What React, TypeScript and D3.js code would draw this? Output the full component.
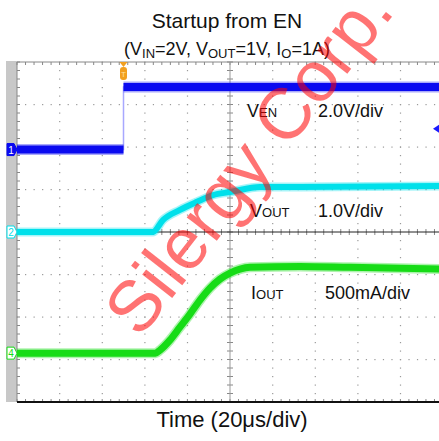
import * as d3 from 'd3';
import React from 'react';

// time axis: 20us/div, 10 divisions, 0 at centre
const timeDomain = [-100, 100];
const divDomain = [-4, 4];

// CH1 - EN (2V/div)
const enTime = [-100, -50, -50, 100];
const enVolt = [0, 0, 2.94, 2.94];
// CH2 - VOUT (1V/div)
const voutTime = [-100, -36.2, -31.5, -23.5, -15.5, -8, 0, 14.1, 32.9, 98, 100];
const voutVolt = [0, 0, 0.28, 0.52, 0.71, 0.87, 0.94, 1.06, 1.06, 1.08, 1.08];
// CH4 - IOUT (500mA/div)
const ioutTime = [-100, -35, -32.9, -28.2, -23.5, -18.8, -14.1, -9.4, -4.7, 0, 4.7, 9.4, 32.9, 56.3, 100];
const ioutAmp = [0, 0, 0.035, 0.153, 0.306, 0.459, 0.624, 0.765, 0.871, 0.941, 0.988, 1.01, 1.02, 1.01, 0.99];

const channels = [
  { id: '1', color: '#0a0af0', perDiv: 2, offset: 1.94, width: 8 },
  { id: '2', color: '#00e0ea', perDiv: 1, offset: 0, width: 6 },
  { id: '4', color: '#16dc16', perDiv: 0.5, offset: -2.85, width: 7 },
];

const FONT = '"Liberation Sans", Arial, sans-serif';

const App = () => {
  const W = 439;
  const H = 441;
  const x = d3.scaleLinear().domain(timeDomain).range([17, 443]);
  const y = d3.scaleLinear().domain(divDomain).range([402, 62]);

  const toPts = (t: number[], v: number[], ch: any) =>
    t.map((tt, i) => [x(tt), y(ch.offset + v[i] / ch.perDiv)] as [number, number]);

  const line = d3.line<[number, number]>();
  const curve = d3.line<[number, number]>().curve(d3.curveMonotoneX);

  const en = toPts(enTime, enVolt, channels[0]);
  const vout = toPts(voutTime, voutVolt, channels[1]);
  const iout = toPts(ioutTime, ioutAmp, channels[2]);

  const majorX = d3.range(-5, 6).map((d) => x(d * 20));
  const majorY = d3.range(-4, 5);
  const subX = d3.range(0, 51).map((i) => x(-100 + i * 4));
  const subY = d3.range(0, 41).map((i) => y(-4 + i * 0.2));

  const dots: JSX.Element[] = [];
  majorX.forEach((gx, i) => {
    if (i === 0 || i === 5) return;
    subY.forEach((sy, j) => dots.push(<rect key={`vx${i}-${j}`} x={gx - 0.5} y={sy - 0.5} width={1.2} height={1.2} fill="#9a9a9a" />));
  });
  majorY.forEach((d, i) => {
    if (d === -4 || d === 0 || d === 4) return;
    subX.forEach((sx, j) => dots.push(<rect key={`hy${i}-${j}`} x={sx - 0.5} y={y(d) - 0.5} width={1.2} height={1.2} fill="#9a9a9a" />));
  });

  const ticks: JSX.Element[] = [];
  subX.forEach((sx, j) => {
    ticks.push(<line key={`tt${j}`} x1={sx} x2={sx} y1={62} y2={65} stroke="#888" />);
    ticks.push(<line key={`tb${j}`} x1={sx} x2={sx} y1={399} y2={402} stroke="#888" />);
    ticks.push(<line key={`tc${j}`} x1={sx} x2={sx} y1={y(0) - 3} y2={y(0) + 3} stroke="#888" />);
  });
  subY.forEach((sy, j) => {
    ticks.push(<line key={`tl${j}`} x1={17} x2={20} y1={sy} y2={sy} stroke="#888" />);
    ticks.push(<line key={`tv${j}`} x1={x(0) - 3} x2={x(0) + 3} y1={sy} y2={sy} stroke="#888" />);
  });

  const marker = (ch: any, filled: boolean) => {
    const my = y(ch.offset);
    return (
      <g key={`m${ch.id}`}>
        <path d={`M7,${my - 6} h7 l3,6 l-3,6 h-7 z`} fill={filled ? ch.color : '#fff'} stroke={ch.color} strokeWidth={1} />
        <text x={11} y={my + 4} textAnchor="middle" fontSize={10} fontFamily={FONT} fill={filled ? '#fff' : ch.color}>{ch.id}</text>
      </g>
    );
  };

  const trace = (pts: [number, number][], ch: any, gen: any) => (
    <g>
      <path d={gen(pts)} fill="none" stroke={ch.color} strokeWidth={ch.width + 3} strokeOpacity={0.35} />
      <path d={gen(pts)} fill="none" stroke={ch.color} strokeWidth={ch.width} />
    </g>
  );

  return (
    <svg width={W} height={H} style={{ position: 'absolute', left: 0, top: 0, display: 'block', background: '#fff' }}>
      {/* titles */}
      <text x={227} y={28} textAnchor="middle" fontSize={21} fontFamily={FONT} fill="#111">Startup from EN</text>
      <text x={227} y={55} textAnchor="middle" fontSize={18} fontFamily={FONT} fill="#111">
        (V<tspan fontSize={13} dy={3}>IN</tspan><tspan dy={-3}>=2V, V</tspan><tspan fontSize={13} dy={3}>OUT</tspan>
        <tspan dy={-3}>=1V, I</tspan><tspan fontSize={13} dy={3}>O</tspan><tspan dy={-3}>=1A)</tspan>
      </text>

      {/* scope frame */}
      <rect x={6} y={61} width={11} height={341} fill="#c8c8c8" />
      <line x1={17} x2={439} y1={62} y2={62} stroke="#888" />
      <line x1={17} x2={17} y1={62} y2={402} stroke="#888" />
      {dots}
      {ticks}
      <line x1={x(0)} x2={x(0)} y1={62} y2={402} stroke="#999" />
      <line x1={17} x2={439} y1={y(0)} y2={y(0)} stroke="#222" />
      <line x1={17} x2={439} y1={402} y2={402} stroke="#111" strokeWidth={2} />

      {/* traces */}
      <path d={line(en) as string} fill="none" stroke="#a8a8ff" strokeWidth={1.5} />
      {trace(en.slice(0, 2), channels[0], line)}
      {trace(en.slice(2), channels[0], line)}
      {trace(vout, channels[1], curve)}
      {trace(iout, channels[2], curve)}

      {/* markers */}
      {marker(channels[0], true)}
      {marker(channels[1], false)}
      {marker(channels[2], false)}
      <path d={`M${x(-50) - 4},62 h8 l-4,5 z`} fill="#f2a020" />
      <rect x={x(-50) - 3.5} y={67} width={7} height={13} rx={3} fill="#f2a020" />
      <text x={x(-50)} y={77} textAnchor="middle" fontSize={8} fontFamily={FONT} fill="#ffe0a0">T</text>
      <path d={`M433,${y(2.43)} l6,-4 v8 z`} fill="#1a1aff" />

      {/* channel labels */}
      <text x={247} y={117} fontSize={18} fontFamily={FONT} fill="#111">V<tspan fontSize={13}>EN</tspan></text>
      <text x={318} y={117} fontSize={18} fontFamily={FONT} fill="#111">2.0V/div</text>
      <text x={250} y={217} fontSize={18} fontFamily={FONT} fill="#111">V<tspan fontSize={13}>OUT</tspan></text>
      <text x={318} y={217} fontSize={18} fontFamily={FONT} fill="#111">1.0V/div</text>
      <text x={251} y={299} fontSize={18} fontFamily={FONT} fill="#111">I<tspan fontSize={13}>OUT</tspan></text>
      <text x={325} y={299} fontSize={18} fontFamily={FONT} fill="#111">500mA/div</text>

      <text x={232} y={427} textAnchor="middle" fontSize={22} fontFamily={FONT} fill="#111">Time (20μs/div)</text>

      {/* watermark */}
      <text x={248} y={160} dy="0.35em" textAnchor="middle" fontSize={72} fontFamily={FONT} fill="#ff0000" fillOpacity={0.55}
        transform="rotate(-52 248 160)">Silergy Corp.</text>
    </svg>
  );
};

export default App;
